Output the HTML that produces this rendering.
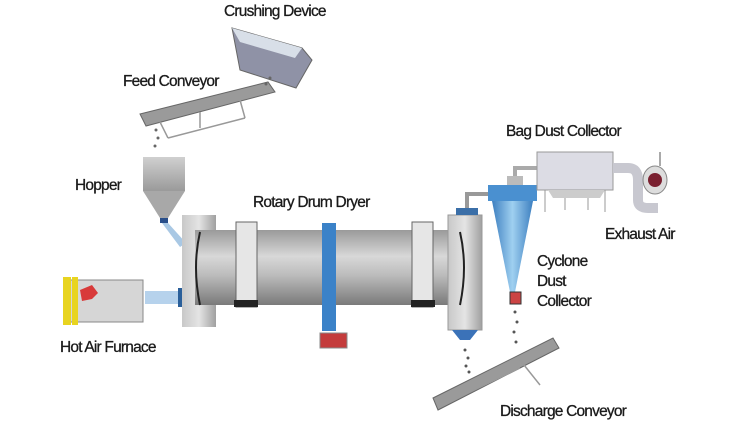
<!DOCTYPE html>
<html><head><style>
html,body{margin:0;padding:0;background:#fff;}
svg{display:block}
text{font-family:"Liberation Sans",sans-serif;font-size:15.5px;fill:#1a1a1a;letter-spacing:-0.8px;stroke:#1a1a1a;stroke-width:0.3}
</style></head><body>
<svg width="750" height="431" viewBox="0 0 750 431">
<defs>
<linearGradient id="drum" x1="0" y1="0" x2="0" y2="1">
<stop offset="0" stop-color="#9a9a9a"/><stop offset="0.35" stop-color="#d8d8d8"/><stop offset="0.6" stop-color="#bcbcbc"/><stop offset="1" stop-color="#7a7a7a"/></linearGradient>
<linearGradient id="flange" x1="0" y1="0" x2="1" y2="0">
<stop offset="0" stop-color="#c8c8c8"/><stop offset="0.5" stop-color="#e4e4e4"/><stop offset="1" stop-color="#a0a0a0"/></linearGradient>
<linearGradient id="cyc" x1="0" y1="0" x2="1" y2="0">
<stop offset="0" stop-color="#3d7fc0"/><stop offset="0.5" stop-color="#9fd0f0"/><stop offset="1" stop-color="#3d7fc0"/></linearGradient>
<linearGradient id="hop" x1="0" y1="0" x2="0" y2="1">
<stop offset="0" stop-color="#d0d0d0"/><stop offset="1" stop-color="#9a9a9a"/></linearGradient>
</defs>
<text x="224" y="16">Crushing Device</text>
<text x="123" y="86">Feed Conveyor</text>
<text x="75" y="190">Hopper</text>
<text x="253" y="207">Rotary Drum Dryer</text>
<text x="60" y="352">Hot Air Furnace</text>
<text x="506" y="136">Bag Dust Collector</text>
<text x="605" y="239">Exhaust Air</text>
<text x="537" y="266">Cyclone</text>
<text x="537" y="286">Dust</text>
<text x="537" y="306">Collector</text>
<text x="500" y="416">Discharge Conveyor</text>

<!-- crushing device -->
<polygon points="232,28 302,48 312,60 296,88 240,70" fill="#8f92a6" stroke="#666"/>
<polygon points="232,28 302,48 295,58 240,42" fill="#d8dfe8"/>
<!-- feed conveyor -->
<polygon points="140,114 268,82 275,92 146,126" fill="#9a9a9a" stroke="#666"/>
<g stroke="#999" stroke-width="1.5"><line x1="160" y1="122" x2="168" y2="138"/><line x1="200" y1="112" x2="200" y2="128"/><line x1="240" y1="100" x2="245" y2="118"/><line x1="168" y1="138" x2="245" y2="118"/></g>
<g fill="#666"><circle cx="156" cy="130" r="1.5"/><circle cx="158" cy="138" r="1.5"/><circle cx="155" cy="146" r="1.5"/><circle cx="270" cy="78" r="1.5"/><circle cx="266" cy="84" r="1.5"/></g>

<!-- hopper -->
<rect x="143" y="157" width="42" height="34" fill="url(#hop)"/>
<polygon points="143,191 185,191 168,218 160,218" fill="#a8a8a8"/>
<rect x="160" y="218" width="8" height="5" fill="#2a4f8a"/>
<polygon points="162,223 168,223 186,243 180,247" fill="#a9c8e4"/>

<!-- furnace -->
<rect x="68" y="280" width="75" height="42" fill="#d6d6d6" stroke="#888"/>
<rect x="63" y="277" width="8" height="48" fill="#e8d420"/>
<rect x="72" y="277" width="6" height="48" fill="#e8d420"/>
<path d="M80 290 l12 -5 l6 8 l-6 6 l-10 2z" fill="#d83a3a"/>
<rect x="145" y="291" width="35" height="13" fill="#b6d2ec"/>
<rect x="178" y="288" width="6" height="19" fill="#2a5f9a"/>

<!-- drum -->
<rect x="182" y="215" width="34" height="112" fill="url(#flange)"/>
<rect x="195" y="230" width="270" height="75" fill="url(#drum)"/>
<path d="M200 232 q-8 35 0 73" stroke="#222" stroke-width="2" fill="none"/>
<rect x="236" y="222" width="21" height="85" fill="#e6e6e6" stroke="#666"/>
<rect x="234" y="300" width="24" height="7" fill="#222"/>
<rect x="412" y="222" width="21" height="85" fill="#e6e6e6" stroke="#666"/>
<rect x="411" y="300" width="24" height="7" fill="#222"/>
<rect x="322" y="223" width="14" height="108" fill="#3b82c8"/>
<rect x="320" y="333" width="27" height="15" fill="#c43c3c" stroke="#888"/>
<rect x="448" y="215" width="34" height="115" fill="url(#flange)" stroke="#999"/>
<path d="M460 232 q8 35 0 73" stroke="#222" stroke-width="2" fill="none"/>
<polygon points="452,330 478,330 470,340 460,340" fill="#3b72b8"/>
<rect x="456" y="208" width="22" height="7" fill="#3b6fa8"/>
<path d="M467 208 v-14 h22" stroke="#999" stroke-width="4" fill="none"/>
<g fill="#555"><circle cx="465" cy="350" r="1.5"/><circle cx="468" cy="358" r="1.5"/><circle cx="466" cy="366" r="1.5"/><circle cx="469" cy="372" r="1.5"/></g>

<!-- cyclone -->
<rect x="488" y="185" width="49" height="16" fill="#4a90d0"/>
<polygon points="492,201 533,201 515,292 510,292" fill="url(#cyc)"/>
<rect x="510" y="292" width="11" height="12" fill="#c44" stroke="#333"/>
<rect x="507" y="176" width="16" height="9" fill="#bbb"/>
<path d="M515 176 v-8 h22" stroke="#aaa" stroke-width="4" fill="none"/>
<g fill="#555"><circle cx="515" cy="312" r="1.5"/><circle cx="517" cy="322" r="1.5"/><circle cx="514" cy="332" r="1.5"/><circle cx="516" cy="342" r="1.5"/></g>

<!-- bag collector -->
<rect x="537" y="152" width="76" height="38" fill="#dcdce4" stroke="#999"/>
<polygon points="548,190 605,190 600,198 553,198" fill="#ccc"/>
<g stroke="#999"><line x1="545" y1="190" x2="545" y2="212"/><line x1="605" y1="190" x2="605" y2="212"/><line x1="565" y1="198" x2="565" y2="210"/><line x1="588" y1="198" x2="588" y2="210"/></g>
<path d="M613 168 h15 q10 0 10 12 v20 q0 8 10 8 h10" stroke="#c8c8d0" stroke-width="10" fill="none"/>
<ellipse cx="655" cy="180" rx="12" ry="14" fill="#ddd" stroke="#888"/>
<circle cx="655" cy="180" r="7" fill="#7a2030"/>
<line x1="660" y1="166" x2="660" y2="152" stroke="#aaa" stroke-width="2"/>

<!-- discharge conveyor -->
<polygon points="433,398 553,338 559,348 438,410" fill="#9a9a9a" stroke="#666"/>
<g stroke="#999" stroke-width="1.5"><line x1="520" y1="360" x2="540" y2="385"/><line x1="470" y1="392" x2="520" y2="368"/></g>
</svg>
</body></html>
